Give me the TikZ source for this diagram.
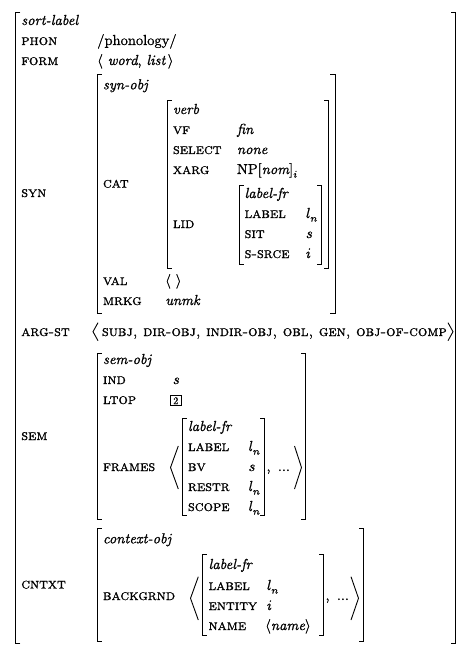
\documentclass[tikz,border=0pt]{standalone}
\usepackage{fontspec}
\usepackage{unicode-math}
\setmainfont{lmroman10-regular.otf}[ItalicFont=lmroman10-italic.otf, FakeBold=1]
\setmathfont{latinmodern-math.otf}[FakeBold=1]
\newfontfamily\rmthk{lmroman10-regular.otf}[FakeBold=1]
\newfontfamily\itthk{lmroman10-italic.otf}[FakeBold=1]
\newfontfamily\scthk{lmromancaps10-regular.otf}[FakeBold=1]
\begin{document}
\begin{tikzpicture}[x=0.69pt,y=-0.69pt,
  brk/.style={line width=0.62pt, line cap=rect},
  ang/.style={line width=0.62pt, line join=miter},
  lab/.style={anchor=base west, inner sep=0pt, font={\scthk\fontsize{10.25}{12}\selectfont}},
  val/.style={anchor=base west, inner sep=0pt, font=\rmthk},
  typ/.style={anchor=base west, inner sep=0pt, font=\itthk},
  tagbox/.style={draw, line width=0.6pt, inner sep=0pt, minimum width=8pt, minimum height=6.9pt, font={\rmthk\scriptsize}}]
\useasboundingbox (0,0) rectangle (472,655);
% ---------- outer brackets ----------
\draw[brk] (20,12) -- (15.5,12) -- (15.5,643) -- (20,643);
\draw[brk] (451,12) -- (455.5,12) -- (455.5,643) -- (451,643);
% ---------- top level ----------
\node[typ] (sl) at (21,25) {sort-label};
\node[lab] (phon) at (21,45) {phon};
\node[val] (phonv) at (97,45) {/phonology/};
\node[lab] (form) at (21,65) {form};
\node[val] (formv) at (97,65) {$\langle$\ {\itthk word}, {\itthk list}\,$\rangle$};
\node[lab] (syn) at (21,197) {syn};
\node[lab] (argst) at (21,336) {arg-st};
\node[lab] (sem) at (21,440) {sem};
\node[lab] (cntxt) at (21,588.5) {cntxt};
% ---------- SYN ----------
\draw[brk] (101.5,74) -- (97.3,74) -- (97.3,313.3) -- (101.5,313.3);
\draw[brk] (330.8,74) -- (335,74) -- (335,313.3) -- (330.8,313.3);
\node[typ] (synobj) at (102.7,89.3) {syn-obj};
\node[lab] (cat) at (102.7,187.7) {cat};
\node[lab] (valf) at (102.7,285) {val};
\node[val] (valv) at (165,285) {$\langle\ \rangle$};
\node[lab] (mrkg) at (102.7,305) {mrkg};
\node[typ] (mrkgv) at (165,305) {unmk};
% CAT
\draw[brk] (171.5,100.7) -- (167.3,100.7) -- (167.3,268.3) -- (171.5,268.3);
\draw[brk] (324.1,100.7) -- (328.3,100.7) -- (328.3,268.3) -- (324.1,268.3);
\node[typ] (verb) at (172.7,114) {verb};
\node[lab] (vf) at (172.7,134) {vf};
\node[typ] (vfv) at (236.7,134) {fin};
\node[lab] (select) at (172.7,154) {select};
\node[typ] (selectv) at (236.7,154) {none};
\node[lab] (xarg) at (172.7,174) {xarg};
\node[val] (xargv) at (236.7,174) {NP[{\itthk nom}]$_i$};
\node[lab] (lid) at (172.7,228) {lid};
% LID
\draw[brk] (243.5,185) -- (239.3,185) -- (239.3,264) -- (243.5,264);
\draw[brk] (317.5,185) -- (321.7,185) -- (321.7,264) -- (317.5,264);
\node[typ] (lidt) at (244.3,198) {label-fr};
\node[lab] (lidl) at (244.3,218) {label};
\node[val] (lidlv) at (305.7,218) {$l_n$};
\node[lab] (lids) at (244.3,238) {sit};
\node[val] (lidsv) at (305.7,238) {$s$};
\node[lab] (lidr) at (244.3,258) {s-srce};
\node[val] (lidrv) at (305.7,258) {$i$};
% ---------- ARG-ST ----------
\draw[ang] (98,322.7) -- (93,331.7) -- (98,340.7);
\node[lab] (argstv) at (101.7,336) {subj, dir-obj, indir-obj, obl, gen, obj-of-comp};
\draw[ang] (448,322.7) -- (453,331.7) -- (448,340.7);
% ---------- SEM ----------
\draw[brk] (101.5,353.3) -- (97.3,353.3) -- (97.3,519.3) -- (101.5,519.3);
\draw[brk] (301.5,353.3) -- (305.7,353.3) -- (305.7,519.3) -- (301.5,519.3);
\node[typ] (semobj) at (102.7,364) {sem-obj};
\node[lab] (ind) at (102.7,384) {ind};
\node[val] (indv) at (172.7,384) {$s$};
\node[lab] (ltop) at (102.7,404) {ltop};
\node[tagbox] (ltopv) at (175.8,400.7) {2};
\node[lab] (frames) at (102.7,471) {frames};
\draw[ang] (178.3,446) -- (170.5,467.5) -- (178.3,489);
\draw[brk] (186.9,418.3) -- (182.7,418.3) -- (182.7,515) -- (186.9,515);
\draw[brk] (260.1,418.3) -- (264.3,418.3) -- (264.3,515) -- (260.1,515);
\node[typ] (frt) at (187.7,431) {label-fr};
\node[lab] (frl) at (187.7,451) {label};
\node[val] (frlv) at (248.3,451) {$l_n$};
\node[lab] (frb) at (187.7,471) {bv};
\node[val] (frbv) at (248.3,471) {$s$};
\node[lab] (frr) at (187.7,491) {restr};
\node[val] (frrv) at (248.3,491) {$l_n$};
\node[lab] (frs) at (187.7,511) {scope};
\node[val] (frsv) at (248.3,511) {$l_n$};
\node[val] (frdots) at (266.3,471) {$,\ \ldots$};
\draw[ang] (294.5,446) -- (301.5,467.5) -- (294.5,489);
% ---------- CNTXT ----------
\draw[brk] (101.5,528.3) -- (97.3,528.3) -- (97.3,641.7) -- (101.5,641.7);
\draw[brk] (359.1,528.3) -- (363.3,528.3) -- (363.3,641.7) -- (359.1,641.7);
\node[typ] (ctxobj) at (102.7,543.3) {context-obj};
\node[lab] (bg) at (102.7,600) {backgrnd};
\draw[ang] (198.3,576.7) -- (190.5,598.3) -- (198.3,620);
\draw[brk] (206.9,554.3) -- (202.7,554.3) -- (202.7,635) -- (206.9,635);
\draw[brk] (319.1,554.3) -- (323.3,554.3) -- (323.3,635) -- (319.1,635);
\node[typ] (bgt) at (208.3,569) {label-fr};
\node[lab] (bgl) at (208.3,590) {label};
\node[val] (bglv) at (266.7,590) {$l_n$};
\node[lab] (bge) at (208.3,610) {entity};
\node[val] (bgev) at (266.7,610) {$i$};
\node[lab] (bgn) at (208.3,630) {name};
\node[val] (bgnv) at (265,630) {$\langle${\itthk name}$\rangle$};
\node[val] (bgdots) at (325.3,600) {$,\ \ldots$};
\draw[ang] (351,576.7) -- (358.5,598.3) -- (351,620);
\end{tikzpicture}
\end{document}
